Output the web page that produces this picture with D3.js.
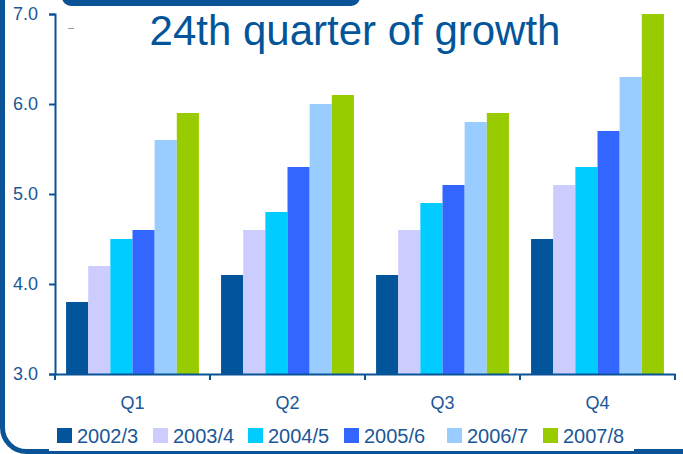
<!DOCTYPE html>
<html>
<head>
<meta charset="utf-8">
<script src="https://cdn.jsdelivr.net/npm/d3@7"></script>
<style>
  body { margin: 0; background: #fff; }
  svg { display: block; font-family: "Liberation Sans", Arial, sans-serif; }
</style>
</head>
<body>
<div id="chart"></div>
<script>
var quarters = ["Q1", "Q2", "Q3", "Q4"];
var seriesNames = ["2002/3", "2003/4", "2004/5", "2005/6", "2006/7", "2007/8"];
var seriesColors = ["#02559a", "#ccccff", "#00ccff", "#3366ff", "#99ccff", "#99cc00"];
var values2002 = [3.8, 4.1, 4.1, 4.5];
var values2003 = [4.2, 4.6, 4.6, 5.1];
var values2004 = [4.5, 4.8, 4.9, 5.3];
var values2005 = [4.6, 5.3, 5.1, 5.7];
var values2006 = [5.6, 6.0, 5.8, 6.3];
var values2007 = [5.9, 6.1, 5.9, 7.0];
var yTicks = [3.0, 4.0, 5.0, 6.0, 7.0];

var allValues = [values2002, values2003, values2004, values2005, values2006, values2007];

var W = 683, H = 454;
var blue = "#0a5396";
var textBlue = "#1b5797";

var svg = d3.select("#chart").append("svg")
    .attr("width", W)
    .attr("height", H);

// frame round the slide
svg.append("rect")
    .attr("x", 2.5).attr("y", -40)
    .attr("width", 740).attr("height", 491.5)
    .attr("rx", 24)
    .attr("fill", "none")
    .attr("stroke", blue)
    .attr("stroke-width", 5);

// tab at the top
svg.append("rect")
    .attr("x", 62).attr("y", -12)
    .attr("width", 298).attr("height", 18)
    .attr("rx", 9)
    .attr("fill", blue);

var x0 = d3.scaleBand()
  .domain(quarters)
  .range([55, 675])
  .padding(0);

var x1 = d3.scaleBand()
  .domain(seriesNames)
  .range([0, x0.bandwidth()])
  .paddingInner(0)
  .paddingOuter(0.5);

var y = d3.scaleLinear()
  .domain([3, 7])
  .range([374, 14]);

// bars
var rows = [];
quarters.forEach(function(q, i) {
  seriesNames.forEach(function(s, j) {
    rows.push({quarter: q, series: s, value: allValues[j][i], color: seriesColors[j]});
  });
});

svg.append("g").selectAll("rect")
  .data(rows)
  .enter()
  .append("rect")
    .attr("x", function(d) { return x0(d.quarter) + x1(d.series); })
    .attr("y", function(d) { return y(d.value); })
    .attr("width", x1.bandwidth())
    .attr("height", function(d) { return y(3) - y(d.value); })
    .attr("fill", function(d) { return d.color; });

// y axis
var yAxis = svg.append("g")
  .attr("transform", "translate(55,0)")
  .call(d3.axisLeft(y).tickValues(yTicks).tickFormat(d3.format(".1f")).tickSize(6).tickPadding(11));

// x axis
var xAxis = svg.append("g")
  .attr("transform", "translate(0,374)")
  .call(d3.axisBottom(x0).tickSize(0).tickPadding(22));

// category boundary ticks
svg.append("g").selectAll("line")
  .data(quarters.concat(["end"]))
  .enter()
  .append("line")
    .attr("x1", function(d, i) { return i < quarters.length ? x0(d) : x0.range()[1]; })
    .attr("x2", function(d, i) { return i < quarters.length ? x0(d) : x0.range()[1]; })
    .attr("y1", 374).attr("y2", 380)
    .attr("stroke", blue)
    .attr("stroke-width", 2);

[yAxis, xAxis].forEach(function(ax) {
  ax.select(".domain").attr("stroke", blue).attr("stroke-width", 2);
  ax.selectAll(".tick line").attr("stroke", blue).attr("stroke-width", 2);
  ax.selectAll(".tick text")
    .attr("fill", textBlue)
    .style("font-family", "'Liberation Sans', Arial, sans-serif")
    .style("font-size", "18px");
});

// small dash near the top left
svg.append("line")
  .attr("x1", 68).attr("x2", 74)
  .attr("y1", 28.5).attr("y2", 28.5)
  .attr("stroke", "#999")
  .attr("stroke-width", 1);

// title
svg.append("text")
  .attr("x", 355)
  .attr("y", 45)
  .attr("text-anchor", "middle")
  .attr("fill", "#03559a")
  .style("font-size", "42px")
  .text("24th quarter of growth");

// legend
var legend = svg.append("g");
legend.append("rect")
  .attr("x", 49).attr("y", 417)
  .attr("width", 585).attr("height", 34)
  .attr("fill", "#fff");

var legendX = [57, 153, 248, 344, 447, 543];
var item = legend.selectAll("g.item")
  .data(seriesNames)
  .enter()
  .append("g")
    .attr("class", "item")
    .attr("transform", function(d, i) { return "translate(" + legendX[i] + ",428)"; });

item.append("rect")
  .attr("width", 15).attr("height", 15)
  .attr("fill", function(d, i) { return seriesColors[i]; });

item.append("text")
  .attr("x", 20)
  .attr("y", 15)
  .attr("fill", textBlue)
  .style("font-size", "20px")
  .text(function(d) { return d; });
</script>
</body>
</html>
